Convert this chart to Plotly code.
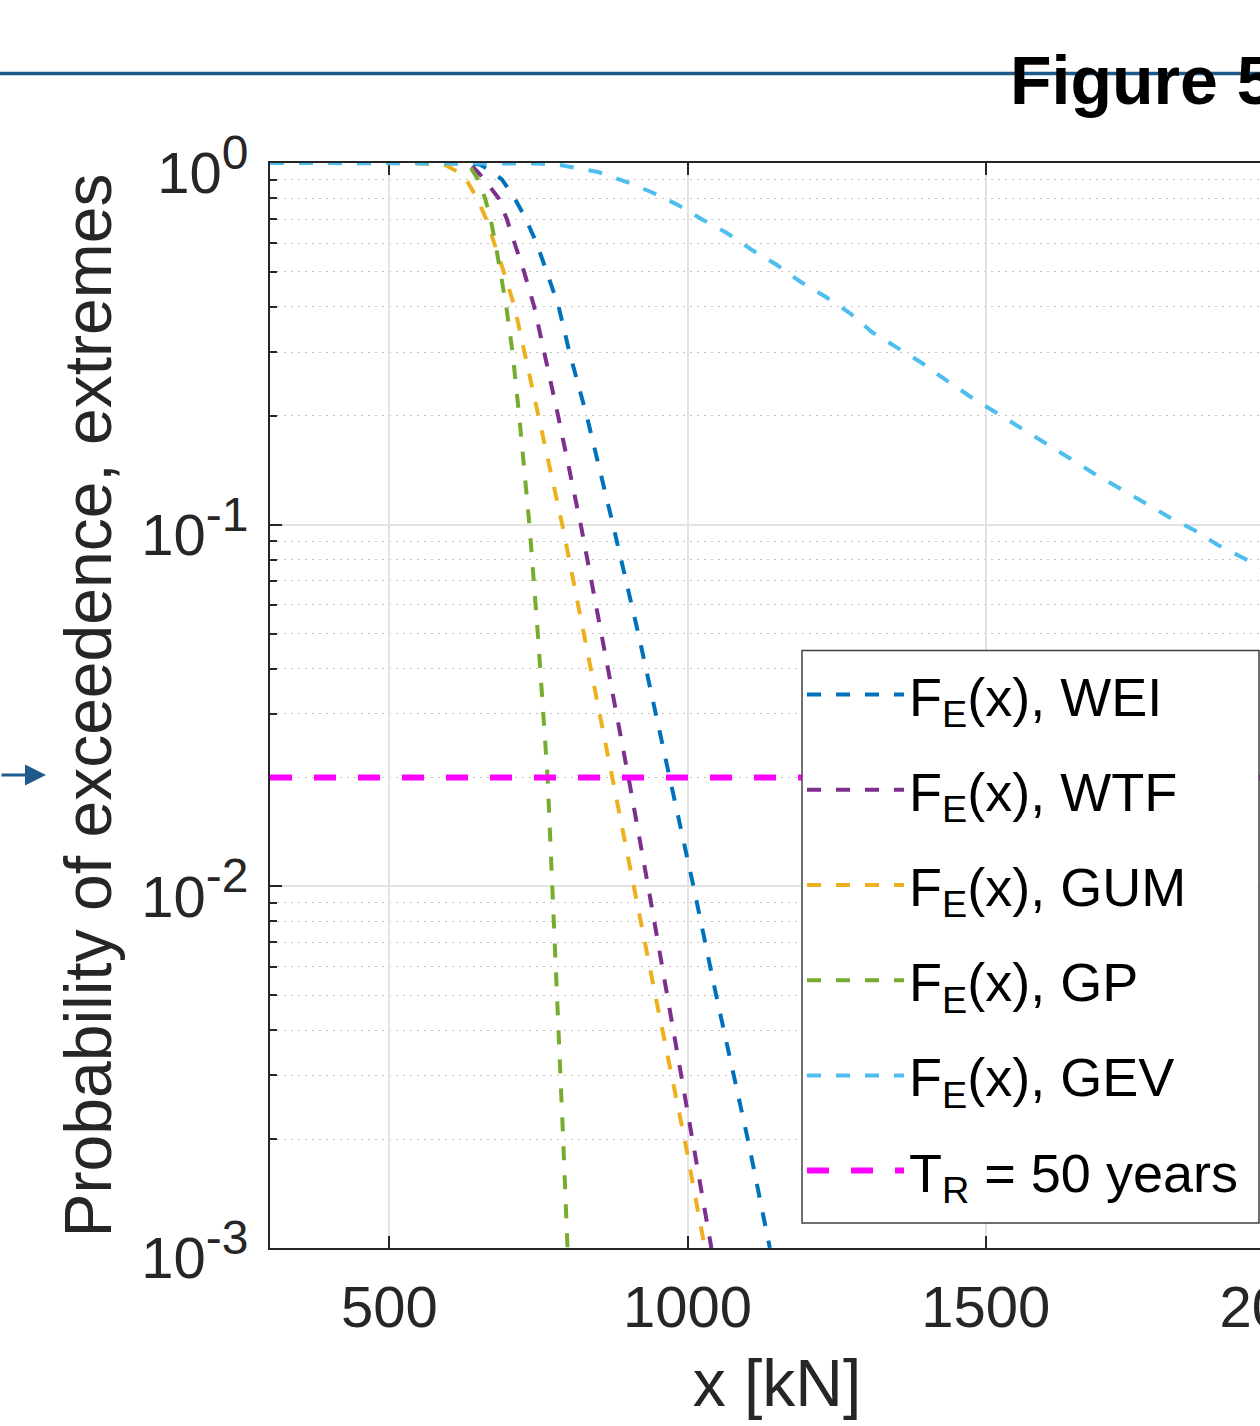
import plotly.graph_objects as go

# ---- data ----
p_levels = [1.0, 0.999, 0.99, 0.95, 0.9, 0.8, 0.7, 0.6, 0.5, 0.4, 0.3, 0.2,
            0.1, 0.05, 0.02, 0.01, 0.005, 0.002, 0.001]

wei_x = [300, 630, 652, 670.5, 689, 710, 729, 747, 764, 784, 802, 831,
         875, 917.5, 970, 1010, 1048, 1101, 1138]
wtf_x = [300, 615, 637, 647, 659.6, 683, 697, 710, 726, 743, 760, 783,
         821, 856, 901, 934, 966, 1008, 1040]
gum_x = [300, 558, 592, 613, 629, 647, 662.5, 676.5, 692, 710, 727, 750,
         790, 826, 874, 911, 946, 995, 1029]
gp_x = [300, 622, 633.6, 641, 648.7, 660.4, 669.8, 677.9, 686.4, 696.2, 706.6, 717.8,
        734.9, 749, 765.4, 773.6, 781.7, 791.5, 798.8]

gev_x = [300, 720, 750, 786, 850, 898.5, 939, 984, 1026, 1066, 1108, 1150, 1190,
         1232, 1272, 1309, 1351, 1393, 1433, 1475, 1515.5, 1557, 1598, 1640,
         1680, 1722, 1767, 1807, 1849, 1889, 1938, 2000]
gev_p = [1.0, 0.9995, 0.997, 0.9873, 0.9443, 0.8860, 0.8314, 0.7655, 0.6958,
         0.6405, 0.5747, 0.5222, 0.4688, 0.4261, 0.3848, 0.3409, 0.3080, 0.2799,
         0.2512, 0.2254, 0.2049, 0.1862, 0.1682, 0.1529, 0.1390, 0.1263, 0.1148,
         0.1050, 0.0967, 0.0879, 0.0798, 0.0708]

tr_x = [300, 2000]
tr_p = [0.02, 0.02]

names = ["F<sub>E</sub>(x), WEI", "F<sub>E</sub>(x), WTF", "F<sub>E</sub>(x), GUM",
         "F<sub>E</sub>(x), GP", "F<sub>E</sub>(x), GEV", "T<sub>R</sub> = 50 years"]
colors = ["#0072BD", "#7E2F8E", "#EDB120", "#77AC30", "#4DBEEE", "#FF00FF"]

x_ticks = [500, 1000, 1500, 2000]
y_ticks = [0.001, 0.01, 0.1, 1]
y_exponents = ["-3", "-2", "-1", "0"]
y_ticktext = ["10<sup><span style='font-size:48px'>%s</span></sup>" % e for e in y_exponents]
y_minor = [k * 10.0 ** e for e in (-3, -2, -1) for k in range(2, 10)]

x_range = [300, 2000]

FONT = "Liberation Sans, Arial, Helvetica, sans-serif"
INK = "#262626"

series = [
    (wei_x, p_levels),
    (wtf_x, p_levels),
    (gum_x, p_levels),
    (gp_x, p_levels),
    (gev_x, gev_p),
]

fig = go.Figure()
for i, (xs, ps) in enumerate(series):
    fig.add_trace(go.Scatter(
        x=xs, y=ps, mode="lines", name=names[i], legendgroup=f"g{i}",
        line=dict(color=colors[i], width=4, dash="14px,15px"),
        hoverinfo="skip",
    ))
fig.add_trace(go.Scatter(
    x=tr_x, y=tr_p, mode="lines", name=names[5], legendgroup="g5",
    line=dict(color=colors[5], width=6, dash="22px,22px"),
    hoverinfo="skip",
))

W, H = 1290, 1426
ML, MR, MT, MB = 270, 6, 163, 178
plot_w = W - ML - MR
plot_h = H - MT - MB


def px_to_paper_x(px):
    return (px - ML) / plot_w


def px_to_paper_y(py):
    return (H - MB - py) / plot_h


fig.update_layout(
    width=W, height=H,
    margin=dict(l=ML, r=MR, t=MT, b=MB, pad=0, autoexpand=False),
    paper_bgcolor="white", plot_bgcolor="white",
    font=dict(family=FONT, color=INK, size=58),
    hovermode=False,
    showlegend=True,
    legend=dict(
        x=px_to_paper_x(802), xanchor="left",
        y=px_to_paper_y(653), yanchor="top",
        bgcolor="rgba(0,0,0,0)", borderwidth=0,
        font=dict(family=FONT, size=54, color="black"),
        itemwidth=97, tracegroupgap=22, traceorder="grouped",
    ),
    xaxis=dict(
        type="linear", range=x_range, automargin=False,
        tickvals=x_ticks, ticks="inside", ticklen=12, tickwidth=2, tickcolor=INK,
        showline=True, linecolor=INK, linewidth=2, mirror="allticks",
        showgrid=True, gridcolor="#e3e3e3", gridwidth=1.5,
        zeroline=False, layer="below traces",
        tickfont=dict(size=58, color=INK, family=FONT),
        ticklabelstandoff=7, ticklabeloverflow="allow",
        title=dict(text="x [kN]", font=dict(size=66, color=INK, family=FONT), standoff=22),
    ),
    yaxis=dict(
        type="log", range=[-3, 0], automargin=False,
        tickvals=y_ticks, ticktext=y_ticktext,
        ticks="inside", ticklen=12, tickwidth=2, tickcolor=INK,
        showline=True, linecolor=INK, linewidth=2, mirror="allticks",
        showgrid=True, gridcolor="#e3e3e3", gridwidth=1.5,
        zeroline=False, layer="below traces",
        tickfont=dict(size=58, color=INK, family=FONT),
        ticklabelstandoff=8, ticklabelshift=10, ticklabeloverflow="allow",
        minor=dict(tickvals=y_minor, ticks="inside", ticklen=7, tickwidth=1.5,
                   tickcolor=INK, showgrid=True, gridcolor="#c4c4c4",
                   gridwidth=1, griddash="2px,5px"),
        title=dict(text="Probability of exceedence, extremes",
                   font=dict(size=66, color=INK, family=FONT), standoff=8),
    ),
)

# legend frame (white box that hides the curves behind the legend)
fig.add_shape(type="rect", xref="paper", yref="paper",
              x0=px_to_paper_x(802), x1=px_to_paper_x(1259),
              y0=px_to_paper_y(1223), y1=px_to_paper_y(650.5),
              fillcolor="white", line=dict(color="#404040", width=1.5), layer="above")

# decorative page elements (document header rule, caption, side arrow)
fig.add_shape(type="line", xref="paper", yref="paper",
              x0=px_to_paper_x(0), x1=px_to_paper_x(W), y0=px_to_paper_y(73.5), y1=px_to_paper_y(73.5),
              line=dict(color="#1f5a8c", width=3.5), layer="below")
fig.add_annotation(text="<b>Figure 5</b>", xref="paper", yref="paper",
                   x=px_to_paper_x(1008), y=px_to_paper_y(80), xanchor="left", yanchor="middle",
                   showarrow=False, font=dict(family=FONT, size=68, color="black"))
fig.add_annotation(text="", xref="paper", yref="paper",
                   x=px_to_paper_x(46), y=px_to_paper_y(775),
                   ax=-52, ay=0, showarrow=True, arrowhead=2, arrowsize=1.4,
                   arrowwidth=3, arrowcolor="#1f5a8c", standoff=0, startstandoff=0)

fig.write_html("out.html", config={"displayModeBar": False},
               post_script="document.body.style.margin='0';document.body.style.overflow='hidden';")
